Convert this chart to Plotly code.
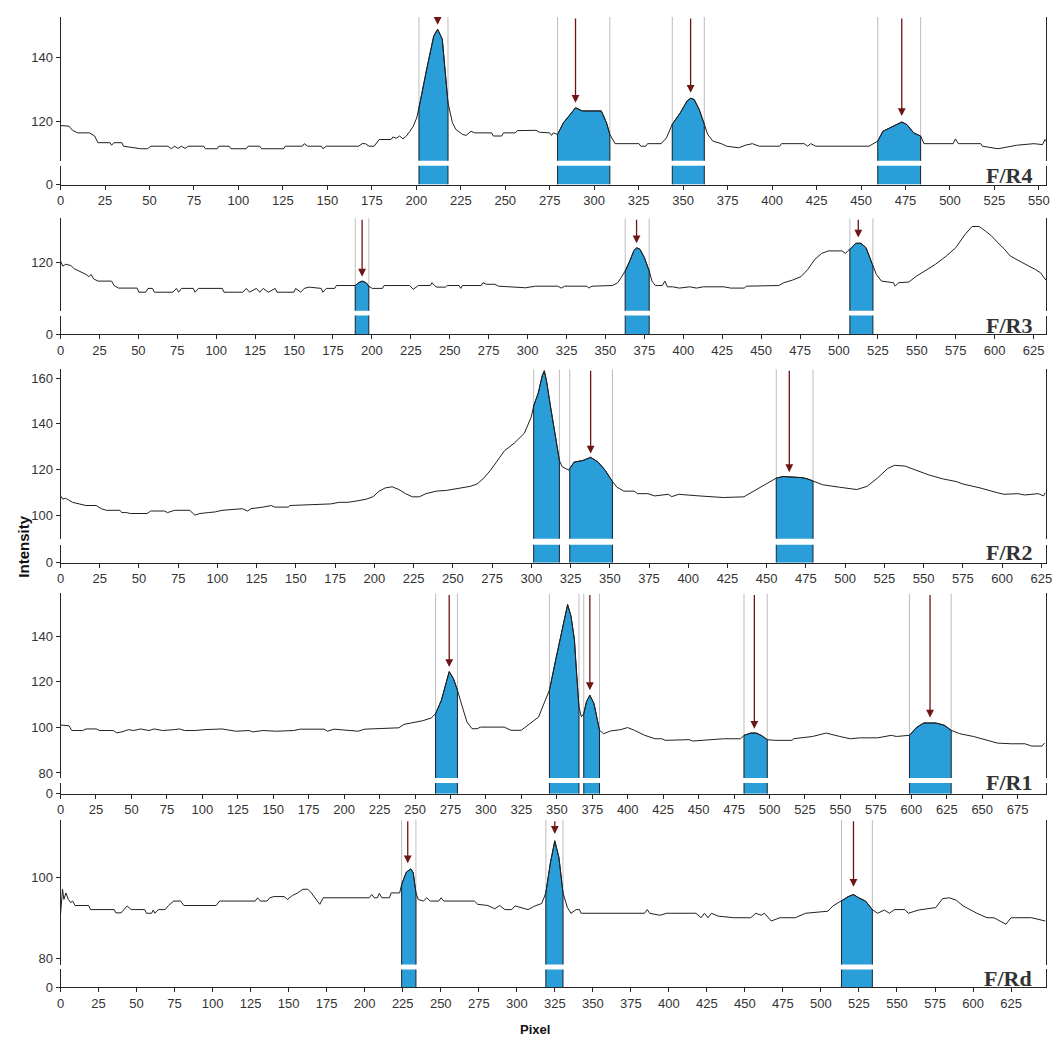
import plotly.graph_objects as go

# The page body has an 8px default margin on every side; the figure is sized so
# the whole page is exactly the 1063x1049 window, and laid out in window pixels.
OFF = 8
WIN_W, WIN_H = 1063, 1049
W, H = WIN_W - 2 * OFF, WIN_H - 2 * OFF

# ---------------- DATA ----------------
# F/R4 profile
r4_x = [0, 4.8, 6.7, 9.6, 16.3, 19.2, 21, 27.8, 28.7, 30,
        34.5, 35.4, 45, 48.9, 50.8, 60.3, 62.3, 64.2, 66, 68,
        70, 71.8, 80.5, 81.4, 88.1, 89, 94.8, 95.8, 104.4, 105.4,
        112, 113, 125.5, 126.4, 136, 137, 138.9, 146.6, 147.5, 149.4,
        167.6, 169.5, 171.4, 173.4, 176.3, 179.1, 185.8, 186.8, 188.7, 190.6,
        192.5, 194.4, 196.4, 198.3, 200.2, 201.5, 206, 209.8, 212, 214.6,
        217.8, 220.3, 222.2, 226, 228, 230.8, 232.8, 242.3, 243.3, 248,
        249, 255.7, 256.7, 265.3, 267.3, 269.2, 275, 276, 277, 279.4,
        282.7, 286.6, 289.5, 291.4, 293.3, 304, 306.9, 308.8, 311.7, 325.2,
        326.2, 329, 330, 337.7, 340.6, 343.9, 348.4, 352.2, 354.2, 356.2,
        359, 361.9, 363.8, 366.7, 371.5, 374.4, 381.2, 385, 388.9, 392.8,
        404.3, 405.3, 418, 420, 421.7, 424.6, 454.5, 459.4, 462.3, 468.1,
        472.9, 475.8, 479.6, 483.5, 485.4, 501.8, 503.1, 504.7, 517.3, 518.2,
        527, 537.5, 547.2, 552, 553.4, 555]
r4_y = [118.6, 118.4, 117.1, 116.3, 116.3, 115.3, 113.2, 113.2, 112.4, 113.2,
        113.2, 112.1, 111.3, 111.3, 112.1, 112.1, 111.3, 112.1, 111.4, 112.1,
        111.4, 112.1, 112.1, 111.3, 111.3, 112.1, 112.1, 111.3, 111.3, 112.1,
        112.1, 111.3, 111.3, 112.1, 112.1, 112.9, 112.1, 112.1, 111.3, 112.1,
        112.1, 112.9, 112.9, 112.1, 112.1, 114.2, 114.2, 115.0, 114.6, 115.3,
        114.4, 115.3, 116.8, 118.4, 121.0, 124.2, 136.8, 146.8, 148.9, 145.8,
        125.8, 119.5, 117.4, 115.8, 115.5, 116.8, 116.3, 116.3, 115.3, 115.3,
        116.3, 116.3, 117.0, 117.0, 117.1, 116.5, 116.3, 115.5, 116.3, 115.8,
        119.5, 122.1, 124.2, 123.7, 123.2, 123.2, 119.5, 115.8, 112.9, 112.9,
        112.1, 112.1, 112.9, 112.9, 114.7, 119.0, 122.6, 126.3, 127.2, 126.8,
        123.7, 119.0, 115.8, 113.7, 112.9, 112.1, 111.6, 112.4, 112.9, 112.1,
        112.1, 112.9, 112.9, 112.1, 112.9, 112.1, 112.1, 113.7, 116.8, 118.4,
        119.7, 118.9, 116.3, 115.3, 112.9, 112.9, 114.4, 112.9, 112.9, 112.1,
        111.3, 112.4, 112.9, 112.6, 114.2, 112.9]
r4_bands = [(201.5, 217.8), (279.4, 308.8), (343.9, 361.9), (459.4, 483.5)]
r4_arrow_x = [212, 289.5, 354.2, 472.9]
r4_arrow_tip = [150.3, 125.8, 128.9, 121.6]

# F/R3 profile
r3_x = [0, 1.5, 3.3, 6.6, 8.8, 12, 16.4, 18.2, 19.7, 21.2,
        24.1, 32.8, 34.4, 37.2, 49.2, 50.3, 54.7, 56.2, 59.1, 60.2,
        72.2, 74.4, 75.9, 77.7, 85.3, 86.4, 88.6, 103.9, 105, 117.1,
        119.3, 121.4, 125.8, 128, 130.2, 133.5, 137.9, 139, 149.9, 151,
        154.3, 156.5, 159.7, 167.4, 168.5, 170.7, 176.1, 177.2, 189.3, 191.5,
        193.7, 196.3, 198, 200.2, 206.8, 207.9, 224.3, 226.5, 229.8, 237.5,
        238.6, 240.1, 241.8, 247.3, 248.4, 256, 257.1, 258.2, 270.2, 271.3,
        273.5, 279, 281.2, 298.7, 305.1, 319.4, 321.6, 323.8, 338.1, 339.2,
        341.4, 354.6, 357.9, 360.1, 362.7, 365.6, 368.2, 370, 372.2, 375,
        378.1, 379.9, 382.1, 386.5, 388.2, 389.8, 393.1, 397.5, 404.1, 408.5,
        412.9, 426.1, 430.5, 439.3, 440.4, 461.3, 464.6, 470.1, 475.6, 480,
        484.4, 488.8, 493.2, 502, 504.2, 505.7, 507, 510.8, 514.1, 517.4,
        521.8, 524, 527.3, 535, 536.1, 538.3, 544.9, 549.3, 562, 569,
        575, 581, 585.5, 590, 594, 598, 602, 606, 610, 614,
        618, 622, 626, 629.5, 632.9]
r3_y = [120.3, 118.7, 119.3, 118.9, 117.9, 117.2, 116.1, 115.4, 116.1, 114.7,
        114.0, 114.0, 112.6, 111.8, 111.8, 110.5, 110.5, 111.7, 111.7, 110.5,
        110.5, 111.7, 110.5, 111.7, 111.7, 110.5, 111.7, 111.7, 110.5, 110.5,
        111.7, 110.5, 111.7, 110.5, 111.7, 110.5, 111.7, 110.5, 110.5, 111.7,
        110.5, 111.7, 112.1, 111.7, 110.5, 111.7, 111.7, 112.6, 112.6, 113.5,
        114.0, 113.5, 112.4, 111.7, 111.7, 112.6, 112.6, 111.4, 112.6, 112.6,
        113.5, 112.6, 112.1, 112.1, 112.6, 112.6, 111.7, 112.6, 112.6, 113.5,
        113.0, 113.0, 112.4, 111.9, 112.4, 112.4, 111.8, 112.4, 112.4, 111.8,
        112.4, 112.6, 113.5, 115.1, 117.2, 120.3, 123.5, 124.5, 124.0, 121.4,
        117.2, 114.0, 112.6, 112.6, 114.0, 112.2, 112.2, 111.8, 112.2, 111.8,
        112.2, 112.2, 111.8, 111.8, 112.4, 112.6, 113.5, 114.3, 115.4, 117.7,
        120.8, 122.7, 123.5, 123.5, 122.7, 123.5, 124.0, 125.9, 125.9, 124.5,
        118.7, 116.1, 114.0, 113.5, 112.4, 113.5, 113.7, 115.4, 119.3, 121.9,
        124.5, 128.7, 131.2, 131.2, 129.8, 128.2, 126.1, 124.2, 121.9, 120.8,
        119.6, 118.7, 117.7, 116.6, 114.3]
r3_bands = [(189.3, 198), (362.7, 378.1), (507, 521.8)]
r3_arrow_x = [193.7, 370, 512.4]
r3_arrow_tip = [115.4, 125.9, 127.7]

# F/R2 profile
r2_x = [0, 1.5, 3.2, 5.4, 7.6, 16.2, 22.7, 26, 29.2, 37.9,
        39, 42.2, 44.4, 55.2, 57.4, 66.1, 68.2, 72.6, 82.3, 85.6,
        88.8, 94.2, 98.6, 102.9, 107.2, 115.9, 119.2, 121.3, 129, 134.3,
        136.5, 145.1, 146.2, 159.2, 172.2, 177.6, 183.1, 189.6, 195, 199.3,
        202.6, 206.9, 211.3, 215.6, 219.9, 224.2, 228.6, 232.9, 239.4, 245.9,
        252.4, 261.1, 265.4, 269.7, 274.1, 278.4, 282.8, 289.3, 295.6, 300,
        301.5, 304.4, 307, 308.3, 309.8, 312, 314.8, 317, 317.9, 319.7,
        324, 324.5, 327.3, 332.8, 337.8, 342.6, 347, 351.7, 354.6, 359,
        365.5, 367.7, 374.2, 378.6, 387.3, 389.5, 393.9, 407, 422.3, 435.4,
        441.9, 448.5, 452.8, 456.1, 460.5, 472.5, 475.8, 479.5, 485.6, 496.5,
        507.4, 514, 520.5, 527.1, 531.4, 538, 544.5, 553.3, 562, 570.7,
        575.1, 586, 597, 601.3, 610, 614.4, 623.1, 626.4, 627.5]
r2_y = [108.4, 107.0, 107.4, 106.3, 105.6, 104.2, 104.2, 102.8, 102.1, 102.1,
        101.1, 101.1, 100.7, 100.7, 101.8, 101.8, 101.1, 102.1, 102.1, 100.0,
        100.7, 101.1, 101.4, 102.1, 102.4, 102.8, 101.8, 102.8, 103.5, 104.2,
        103.5, 103.5, 104.2, 104.6, 104.9, 105.6, 105.6, 106.3, 107.0, 108.1,
        110.3, 111.9, 112.4, 111.2, 109.4, 108.0, 108.0, 109.4, 110.5, 110.8,
        111.7, 112.6, 113.6, 116.2, 119.7, 123.9, 128.1, 131.6, 135.9, 143.0,
        147.8, 153.4, 161.1, 163.2, 158.3, 148.5, 136.5, 126.7, 123.9, 121.1,
        119.7, 120.4, 123.2, 123.9, 125.3, 123.2, 119.7, 114.7, 112.2, 110.5,
        110.5, 109.4, 109.4, 108.4, 109.1, 108.1, 109.1, 108.4, 107.7, 108.0,
        110.5, 113.1, 114.7, 116.2, 116.9, 116.4, 115.9, 115.0, 113.3, 112.2,
        111.2, 112.6, 116.2, 120.4, 121.8, 121.5, 119.7, 117.6, 115.9, 114.7,
        113.6, 111.9, 109.8, 109.1, 109.4, 108.8, 109.4, 108.4, 109.8]
r2_bands = [(301.5, 317.9), (324.5, 351.7), (456.1, 479.5)]
r2_arrow_x = [337.8, 464.4]
r2_arrow_tip = [127.0, 118.8]

# F/R1 profile
r1_x = [0, 6, 7.9, 15.6, 18, 25.2, 27.6, 37.2, 39.6, 43.2,
        48, 51.6, 56.4, 62.4, 65.9, 72, 80.3, 83.9, 87.5, 94.7,
        101.9, 106.7, 113.9, 123.5, 133, 135.5, 142.7, 152.3, 164.3, 169.1,
        185.9, 188.2, 193, 209.8, 214.6, 226.6, 238.6, 242.2, 248.2, 255.4,
        261.4, 264.5, 268.6, 274.1, 277, 279.9, 283, 286.6, 290.2, 293.8,
        296.2, 312.9, 317.7, 324.9, 330.9, 335.7, 337.1, 341.9, 344.8, 349.2,
        354, 357.6, 360, 362.4, 364.1, 365.6, 367.3, 369, 370.9, 373.3,
        376.2, 380.1, 383, 387.8, 395, 399.9, 404.7, 412, 419.2, 424,
        426.4, 443.4, 445.8, 457.9, 467.6, 479.6, 482, 486.8, 490.5, 494.1,
        498.4, 503.7, 515.8, 517, 523.1, 530.3, 540, 544.8, 549.6, 556.9,
        564.1, 576.2, 585.9, 589.5, 598.7, 604, 608.8, 617.3, 623.3, 628.1,
        634.2, 643.8, 651.1, 660.7, 670.4, 680.1, 684.9, 692.1, 694]
r1_y = [101.0, 100.7, 98.6, 98.6, 99.3, 99.3, 98.6, 98.6, 97.6, 98.0,
        99.0, 98.6, 99.3, 98.6, 99.3, 98.6, 99.0, 99.3, 98.6, 98.6,
        99.0, 99.0, 99.3, 98.3, 98.6, 98.0, 98.6, 98.3, 98.6, 99.2,
        99.2, 98.3, 99.2, 98.3, 99.2, 99.5, 99.8, 101.3, 102.1, 102.9,
        104.1, 106.0, 111.9, 124.4, 121.5, 116.3, 109.7, 102.4, 99.4, 99.4,
        100.1, 100.1, 98.7, 98.7, 101.6, 103.8, 104.5, 111.9, 116.3, 129.6,
        143.5, 153.8, 148.7, 138.4, 122.2, 109.0, 104.6, 106.0, 111.2, 114.1,
        110.4, 98.7, 97.2, 98.4, 99.0, 99.9, 98.7, 96.5, 95.0, 95.0,
        94.3, 94.6, 94.0, 94.6, 95.0, 95.0, 96.5, 97.5, 97.5, 96.5,
        94.6, 94.3, 94.3, 95.0, 95.4, 96.0, 97.5, 96.9, 96.0, 95.0,
        95.4, 95.4, 96.5, 96.0, 96.5, 100.1, 101.9, 101.9, 100.9, 98.7,
        97.2, 96.0, 94.6, 93.1, 92.8, 92.8, 91.8, 91.8, 93.1]
r1_bands = [(264.5, 279.9), (344.8, 365.6), (369, 380.1), (482, 498.4), (598.7, 628.1)]
r1_arrow_x = [274.1, 373.3, 489.3, 613.2]
r1_arrow_tip = [126.4, 116.3, 99.4, 104.3]

# F/Rd profile
rd_x = [0, 0.7, 1.3, 2.2, 3.6, 5.1, 6.7, 8, 9.6, 18.5,
        19.7, 35.3, 36.4, 39.8, 42, 43.8, 46.5, 55.4, 56.5, 59.9,
        61, 62.1, 64.3, 68.8, 71, 74.4, 78.9, 81.1, 102.3, 104.6,
        128, 129.6, 131.4, 135.8, 137.6, 140.3, 147, 149.2, 152.6, 155.9,
        159.3, 162.6, 164.9, 168.2, 170.5, 172.7, 202.9, 204.7, 206.2, 208.4,
        209.6, 211.3, 216.3, 217.4, 223, 224.3, 227.4, 230.3, 231.9, 233.7,
        235.2, 238.6, 240.8, 243.1, 248.7, 250.2, 252, 272.1, 274.3, 281,
        285.5, 288.8, 292.2, 296.7, 298.9, 307.4, 312, 316.4, 319.1, 322.1,
        325, 327.7, 330.4, 333.3, 335.6, 339, 341.2, 342.3, 384, 385.8,
        387.4, 394.1, 398.6, 417.8, 421.2, 423.4, 425.7, 428, 432.4, 442.6,
        453.8, 457.2, 460.6, 462.8, 467.3, 473, 483.1, 489.9, 504.5, 507.9,
        513.5, 518, 521.4, 524.8, 529.3, 533.8, 537.2, 541.7, 545, 548.4,
        555.2, 557.4, 564.2, 575.5, 580, 584.5, 589, 593.5, 602.5, 609.2,
        613.7, 618.2, 621.6, 625, 638.5, 647.5]
rd_y = [90.8, 96.1, 97.0, 94.5, 96.1, 94.5, 93.7, 94.1, 93.0, 93.0,
        92.0, 92.0, 91.2, 91.2, 92.0, 92.9, 92.0, 92.0, 91.1, 91.1,
        91.9, 91.1, 92.0, 92.0, 93.0, 94.1, 94.1, 93.0, 93.0, 94.1,
        94.1, 94.9, 94.1, 94.1, 94.9, 95.2, 95.2, 94.5, 95.5, 96.1,
        97.0, 97.0, 96.1, 94.5, 93.3, 94.9, 94.9, 95.7, 94.9, 94.9,
        96.0, 94.9, 94.9, 96.1, 96.1, 98.2, 101.2, 102.0, 101.1, 96.1,
        94.5, 94.1, 94.9, 94.1, 94.1, 94.9, 94.1, 94.1, 93.3, 93.0,
        92.2, 93.0, 92.0, 92.0, 92.9, 92.0, 92.9, 93.5, 96.1, 103.5,
        108.9, 104.8, 96.1, 92.5, 91.1, 92.0, 92.0, 91.1, 91.1, 92.0,
        91.1, 90.6, 91.1, 91.1, 90.0, 91.1, 90.0, 91.1, 90.4, 90.0,
        90.0, 91.1, 90.6, 91.1, 89.2, 90.0, 90.0, 91.1, 91.6, 92.9,
        94.1, 95.2, 95.7, 94.9, 94.1, 92.0, 91.1, 91.9, 91.1, 92.0,
        92.0, 91.1, 91.9, 92.5, 94.7, 94.9, 94.3, 92.9, 91.1, 90.0,
        90.0, 89.2, 88.4, 90.0, 90.0, 89.2]
rd_bands = [(224.3, 233.7), (319.1, 330.4), (513.5, 533.8)]
rd_arrow_x = [228.3, 325, 521.4]
rd_arrow_tip = [103.4, 110.6, 97.6]

panel_labels = ["F/R4", "F/R3", "F/R2", "F/R1", "F/Rd"]
upper_ticks = [[120, 140], [120], [100, 120, 140, 160], [80, 100, 120, 140], [80, 100]]

# ---------------- LAYOUT GEOMETRY (window pixels) ----------------
geom = [
    dict(top=17, ba=162, bb=167, zero=186, yr=[107.5, 152.8], xmax=554, lab_y=177),
    dict(top=220, ba=313, bb=318, zero=337, yr=[104.7, 133.75], xmax=633, lab_y=328),
    dict(top=372, ba=543, bb=549, zero=567, yr=[89.6, 163.9], xmax=628, lab_y=557),
    dict(top=598, ba=784, bb=789, zero=800, yr=[77.8, 158.7], xmax=695, lab_y=789),
    dict(top=826, ba=972, bb=977, zero=995, yr=[78.5, 114.1], xmax=648, lab_y=986),
]
series = [
    (r4_x, r4_y, r4_bands, r4_arrow_x, r4_arrow_tip),
    (r3_x, r3_y, r3_bands, r3_arrow_x, r3_arrow_tip),
    (r2_x, r2_y, r2_bands, r2_arrow_x, r2_arrow_tip),
    (r1_x, r1_y, r1_bands, r1_arrow_x, r1_arrow_tip),
    (rd_x, rd_y, rd_bands, rd_arrow_x, rd_arrow_tip),
]


def px(p):
    return (p - OFF) / W


def py(p):
    return 1 - (p - OFF) / H


FILL = "#2A9ED8"
EDGE = "#1B2633"
CURVE = "#202020"
GRAY = "#BDBDBD"
ARROW = "#6E1616"
AXC = "#262626"
tickfont = dict(family="Liberation Sans Narrow, Arial Narrow, Liberation Sans, Arial, sans-serif",
                size=13, color="#333333")

fig = go.Figure()
layout = dict(width=W, height=H, margin=dict(l=0, r=0, t=0, b=0),
              paper_bgcolor="white", plot_bgcolor="white", showlegend=False)
annotations = []

xdom = [px(57), px(1052)]

for i, (g, (cx, cy, bands, arx, art)) in enumerate(zip(geom, series)):
    n = i + 1
    xa = "x" if n == 1 else f"x{n}"
    yu = "y" if n == 1 else f"y{n}"
    yl = f"y{n + 5}"
    xkey = "xaxis" if n == 1 else f"xaxis{n}"
    yukey = "yaxis" if n == 1 else f"yaxis{n}"
    ylkey = f"yaxis{n + 5}"

    layout[xkey] = dict(domain=xdom, anchor=yl, range=[0, g["xmax"]], dtick=25, tick0=0,
                        ticks="outside", ticklen=4, tickcolor=AXC, showline=True,
                        linecolor=AXC, linewidth=1, showgrid=False, zeroline=False,
                        tickfont=tickfont, ticklabeloverflow="allow")
    layout[yukey] = dict(domain=[py(g["ba"]), py(g["top"])], anchor=xa,
                         range=g["yr"], tickvals=upper_ticks[i], ticks="outside",
                         ticklen=4, tickcolor=AXC, showline=True, mirror=True,
                         linecolor=AXC, linewidth=1, showgrid=False, zeroline=False,
                         tickfont=tickfont)
    layout[ylkey] = dict(domain=[py(g["zero"]), py(g["bb"])], anchor=xa,
                         range=[0, 10], tickvals=[0], ticks="outside", ticklen=4,
                         tickcolor=AXC, showline=True, mirror=True, linecolor=AXC,
                         linewidth=1, showgrid=False, zeroline=False, tickfont=tickfont)

    # gray boundary lines
    gx, gy = [], []
    for s, e in bands:
        for v in (s, e):
            gx += [v, v, None]
            gy += [g["yr"][0], g["yr"][1], None]
    fig.add_trace(go.Scatter(x=gx, y=gy, mode="lines", xaxis=xa, yaxis=yu,
                             line=dict(color=GRAY, width=1), hoverinfo="skip"))

    # filled bands (upper and lower segments)
    for s, e in bands:
        sx = [x for x in cx if s <= x <= e]
        sy = [y for x, y in zip(cx, cy) if s <= x <= e]
        fig.add_trace(go.Scatter(x=[s] + sx + [e], y=[0] + sy + [0], mode="lines",
                                 fill="toself", fillcolor=FILL, xaxis=xa, yaxis=yu,
                                 line=dict(color=EDGE, width=1), hoverinfo="skip"))
        fig.add_trace(go.Scatter(x=[s, s, e, e], y=[0, 50, 50, 0], mode="lines",
                                 fill="toself", fillcolor=FILL, xaxis=xa, yaxis=yl,
                                 line=dict(color=EDGE, width=1), hoverinfo="skip"))

    # profile curve
    fig.add_trace(go.Scatter(x=cx, y=cy, mode="lines", xaxis=xa, yaxis=yu,
                             line=dict(color=CURVE, width=1), hoverinfo="skip"))

    # arrows
    for ax_, tip in zip(arx, art):
        annotations.append(dict(x=ax_, y=tip, xref=xa, yref=yu, ax=ax_, ay=g["yr"][1],
                                axref=xa, ayref=yu, showarrow=True, text="",
                                arrowhead=2, arrowsize=1.2, arrowwidth=1.3,
                                arrowcolor=ARROW))

    # panel label
    annotations.append(dict(x=px(1040), y=py(g["lab_y"]), xref="paper", yref="paper",
                            xanchor="right", yanchor="middle", showarrow=False,
                            text="<b>" + panel_labels[i] + "</b>",
                            font=dict(family="Liberation Serif, Times New Roman, serif",
                                      size=22, color="#333333")))

annotations.append(dict(x=px(20), y=py(551), xref="paper", yref="paper",
                        xanchor="center", yanchor="middle",
                        text="<b>Intensity</b>", textangle=-90, showarrow=False,
                        font=dict(family="Liberation Sans, Arial, sans-serif", size=15,
                                  color="#111111")))
annotations.append(dict(x=px(536), y=py(1037), xref="paper", yref="paper",
                        xanchor="center", yanchor="middle",
                        text="<b>Pixel</b>", showarrow=False,
                        font=dict(family="Liberation Sans, Arial, sans-serif", size=13,
                                  color="#111111")))

layout["annotations"] = annotations
fig.update_layout(**layout)
fig.write_html("out.html", config={"displayModeBar": False})
